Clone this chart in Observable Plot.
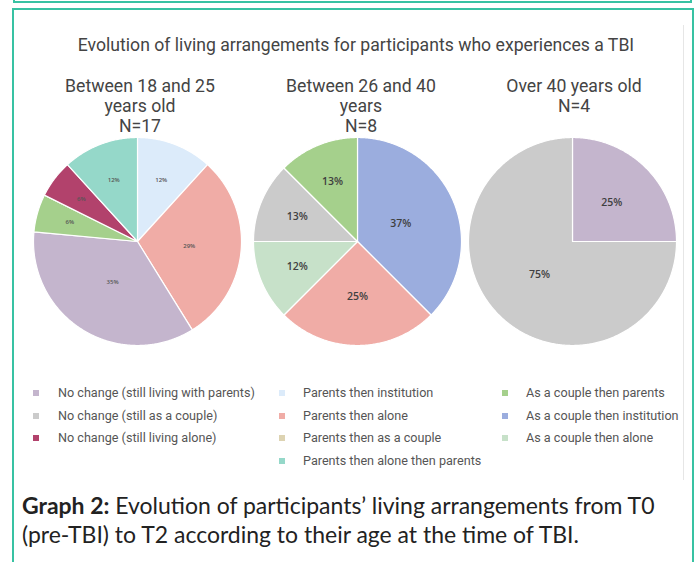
<!DOCTYPE html>
<html><head><meta charset="utf-8">
<script src="https://cdn.jsdelivr.net/npm/d3@7"></script>
<script src="https://cdn.jsdelivr.net/npm/@observablehq/plot@0.6"></script>
<style>
body{margin:0;background:#fff;}
#page{position:relative;width:696px;height:562px;overflow:hidden;font-family:Roboto,sans-serif;color:#444;}
.prev{position:absolute;left:13px;top:-20px;width:675px;height:19px;border:2px solid #38c2a3;}
.box{position:absolute;left:12px;top:8px;width:678px;height:620px;border:2px solid #38c2a3;}
.edge{position:absolute;left:683px;top:25px;width:1px;height:455px;background:#e6e6e6;}
.title{position:absolute;left:0;width:712px;top:35px;text-align:center;font-size:15.5px;line-height:20px;white-space:nowrap;}
.sub{position:absolute;top:76px;width:240px;text-align:center;font-size:15.5px;line-height:20px;white-space:nowrap;}
.leg{position:absolute;font-size:11px;color:#555;white-space:nowrap;}
.leg .row{position:relative;height:22.5px;line-height:22.5px;}
.leg .sw{position:absolute;width:6px;height:6px;top:8px;}
.cap{position:absolute;left:22px;top:491px;font-family:Lato,sans-serif;font-size:19.5px;line-height:29px;color:#222;white-space:nowrap;}
.m{display:inline-block;}
#chart{position:absolute;left:0;top:0;}
</style></head>
<body><div id="page">
<div class="prev"></div>
<div class="box"></div>
<div class="edge"></div>
<div class="title"><span class="m" id="title"></span></div>
<div id="subs"></div>
<div id="chart"></div>
<div id="legend"></div>
<div class="cap" id="cap"><span class="m" id="cap1"><b>Graph 2:</b> Evolution of participants’ living arrangements from T0</span><br><span class="m">(pre-TBI) to T2 according to their age at the time of TBI.</span></div>
</div>
<script>
const titleText = "Evolution of living arrangements for participants who experiences a TBI";
const groupTitles = [["Between 18 and 25", "years old", "N=17"], ["Between 26 and 40", "years", "N=8"], ["Over 40  years old", "N=4"]];

const categories = [
  "No change (still living with parents)", "No change (still as a couple)", "No change (still living alone)",
  "Parents then institution", "Parents then alone", "Parents then as a couple", "Parents then alone then parents",
  "As a couple then parents", "As a couple then institution", "As a couple then alone"
];
const colors = ["#c4b5cd", "#cbcbcb", "#b2426c", "#dcebfa", "#f0aca6", "#ddd3b2", "#95d8c9", "#a5d08c", "#9badde", "#c7e1c9"];
const legendColumns = [[0, 1, 2], [3, 4, 5, 6], [7, 8, 9]];

const pie1Cats = ["Parents then institution", "Parents then alone", "No change (still living with parents)", "As a couple then parents", "No change (still living alone)", "Parents then alone then parents"];
const pie1Counts = [2, 5, 6, 1, 1, 2];
const pie1Labels = ["12%", "29%", "35%", "6%", "6%", "12%"];

const pie2Cats = ["As a couple then institution", "Parents then alone", "As a couple then alone", "No change (still as a couple)", "As a couple then parents"];
const pie2Counts = [3, 2, 1, 1, 1];
const pie2Labels = ["37%", "25%", "12%", "13%", "13%"];

const pie3Cats = ["No change (still living with parents)", "No change (still as a couple)"];
const pie3Counts = [1, 3];
const pie3Labels = ["25%", "75%"];

// layout
const centers = [137, 357, 572];
const subCenters = [140, 361, 574];
const cy = 241, R = 104;
const labelSizes = [6, 10.5, 10.5];
const labelColors = ["#555", "#3f3f3f", "#3f3f3f"];

function fit(el, target, sizeEl) {
  const t = sizeEl || el;
  const fs = parseFloat(getComputedStyle(t).fontSize);
  const w = el.getBoundingClientRect().width;
  const nf = fs * target / w;
  t.style.fontSize = nf + "px";
  return nf;
}

const titleEl = document.getElementById("title");
titleEl.textContent = titleText;
fit(titleEl, 557, titleEl.parentNode);

const subs = document.getElementById("subs");
const subDivs = [];
groupTitles.forEach((lines, i) => {
  const d = document.createElement("div");
  d.className = "sub";
  d.style.left = (subCenters[i] - 120) + "px";
  d.innerHTML = lines.map(l => `<span class="m">${l}</span>`).join("<br>");
  subs.appendChild(d);
  subDivs.push(d);
});
const subSize = fit(subDivs[0].querySelector(".m"), 150, subDivs[0]);
subDivs.forEach(d => d.style.fontSize = subSize + "px");

const pies = [[pie1Cats, pie1Counts, pie1Labels], [pie2Cats, pie2Counts, pie2Labels], [pie3Cats, pie3Counts, pie3Labels]];
const slicePts = [];
const labels = [];
pies.forEach(([cats, counts, labs], p) => {
  const total = d3.sum(counts);
  const arcs = d3.pie().sort(null).value(d => d)(counts);
  arcs.forEach((a, i) => {
    const id = p + "-" + i;
    const cat = cats[i];
    slicePts.push({id, cat, x: centers[p], y: cy});
    const n = Math.max(2, Math.ceil((a.endAngle - a.startAngle) / 0.01));
    for (let k = 0; k <= n; k++) {
      const t = a.startAngle + (a.endAngle - a.startAngle) * k / n;
      slicePts.push({id, cat, x: centers[p] + R * Math.sin(t), y: cy - R * Math.cos(t)});
    }
    const f = counts[i] / total;
    const rl = R * Math.max(0.45, 0.72 - 0.75 * f);
    const m = (a.startAngle + a.endAngle) / 2;
    labels.push({p, text: labs[i], x: centers[p] + rl * Math.sin(m), y: cy - rl * Math.cos(m)});
  });
});

const chart = Plot.plot({
  width: 696, height: 480, margin: 0,
  style: {background: "transparent"},
  x: {domain: [0, 696], range: [0, 696], axis: null},
  y: {domain: [0, 480], range: [0, 480], axis: null},
  color: {domain: categories, range: colors},
  marks: [
    Plot.line(slicePts, {x: "x", y: "y", z: "id", fill: "cat", stroke: "white", strokeWidth: 1.2, curve: "linear-closed"}),
    ...[0, 1, 2].map(p => Plot.text(labels.filter(d => d.p === p), {
      x: "x", y: "y", text: "text", fontSize: labelSizes[p], fontWeight: 600,
      fontFamily: "Open Sans, sans-serif", fill: labelColors[p]
    }))
  ]
});
document.getElementById("chart").appendChild(chart);

const colLeft = [33, 279, 502];
const colText = [25, 24, 24];
const legend = document.getElementById("legend");
const legBoxes = [];
legendColumns.forEach((col, c) => {
  const box = document.createElement("div");
  box.className = "leg";
  box.style.left = colLeft[c] + "px";
  box.style.top = "382px";
  col.forEach(idx => {
    const r = document.createElement("div");
    r.className = "row";
    r.innerHTML = `<span class="sw" style="background:${colors[idx]}"></span><span class="m" style="margin-left:${colText[c]}px">${categories[idx]}</span>`;
    box.appendChild(r);
  });
  legend.appendChild(box);
  legBoxes.push(box);
});
const legSize = fit(legBoxes[0].querySelector(".m"), 197, legBoxes[0]);
legBoxes.forEach(b => b.style.fontSize = legSize + "px");

fit(document.getElementById("cap1"), 633, document.getElementById("cap"));
</script>
</body></html>
